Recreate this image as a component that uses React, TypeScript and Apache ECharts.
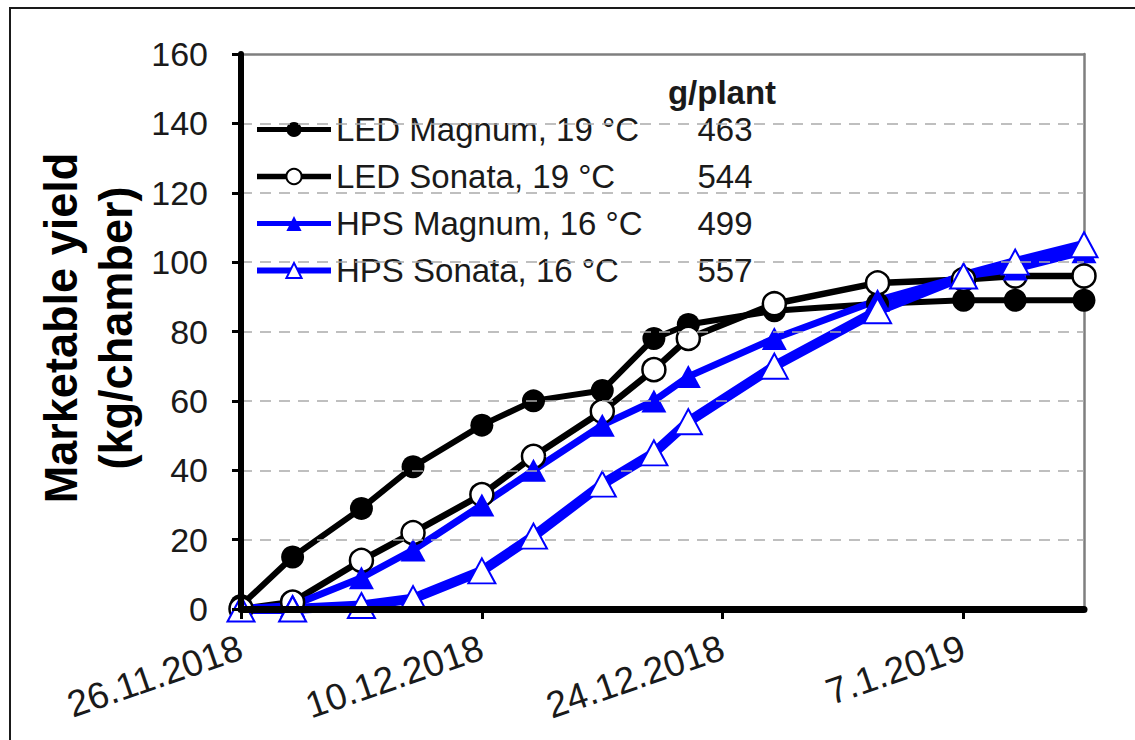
import React, { useEffect, useRef } from 'react';
import * as echarts from 'echarts';

// ---- data ----
const harvestDates = [
  '2018-11-26', '2018-11-29', '2018-12-03', '2018-12-06', '2018-12-10', '2018-12-13', '2018-12-17',
  '2018-12-20', '2018-12-22', '2018-12-27', '2019-01-02', '2019-01-07', '2019-01-10', '2019-01-14',
];
const ledMagnum = [1, 15, 29, 41, 53, 60, 63, 78, 82, 86, 88, 89, 89, 89];
const ledSonata = [0, 2, 14, 22, 33, 44, 57, 69, 78, 88, 94, 95, 96, 96];
const hpsMagnum = [0, 1, 9, 17, 30, 40, 53, 60, 67, 78, 89, 96, 98, 103];
const hpsSonata = [0, 0, 1, 3, 11, 21, 36, 45, 54, 70, 86, 96, 100, 105];
const seriesNames = ['LED Magnum, 19 °C', 'LED Sonata, 19 °C', 'HPS Magnum, 16 °C', 'HPS Sonata, 16 °C'];
const gramsPerPlant = [463, 544, 499, 557];
const xStartDate = '2018-11-26';
const xEndDate = '2019-01-14';
const xTickDates = ['2018-11-26', '2018-12-10', '2018-12-24', '2019-01-07'];
const yMin = 0;
const yMax = 160;
const yStep = 20;

const DAY = 86400000;
const dayOffset = (s: string) => Math.round((Date.parse(s) - Date.parse(xStartDate)) / DAY);
const fmtDate = (v: number) => {
  const d = new Date(Date.parse(xStartDate) + v * DAY);
  return `${d.getUTCDate()}.${d.getUTCMonth() + 1}.${d.getUTCFullYear()}`;
};
const pairs = (vals: number[]) => harvestDates.map((d, i) => [dayOffset(d), vals[i]]);

const FONT = '"Liberation Sans", Arial, Helvetica, sans-serif';
const BLUE = '#0000ff';

export default function App() {
  const ref = useRef<HTMLDivElement>(null);
  useEffect(() => {
    document.body.style.margin = '0';
    if (!ref.current) return;
    const chart = echarts.init(ref.current, undefined, { renderer: 'svg' });
    const xTicks = xTickDates.map(dayOffset);
    const xMax = dayOffset(xEndDate);
    const legendLineWidths = [5, 5.5, 5, 6];
    chart.setOption({
      animation: false,
      backgroundColor: '#ffffff',
      grid: { left: 241, top: 54, right: 51, bottom: 131, show: false },
      xAxis: [
        {
          type: 'value',
          min: 0,
          max: xMax,
          interval: 14,
          z: 5,
          axisLine: { show: true, lineStyle: { color: '#000', width: 7 } },
          axisTick: { show: true, length: 10, lineStyle: { color: '#000', width: 3 }, customValues: xTicks },
          axisLabel: {
            customValues: xTicks,
            formatter: (v: number) => fmtDate(v),
            rotate: 19,
            margin: 37,
            fontSize: 37,
            fontFamily: FONT,
            color: '#1a1a1a',
          },
          splitLine: { show: false },
        },
        {
          type: 'value',
          position: 'top',
          min: 0,
          max: xMax,
          interval: 14,
          axisLine: { show: true, onZero: false, lineStyle: { color: '#7f7f7f', width: 2.5 } },
          axisTick: { show: false },
          axisLabel: { show: false },
          splitLine: { show: false },
        },
      ],
      yAxis: [
        {
          type: 'value',
          min: yMin,
          max: yMax,
          interval: yStep,
          z: 5,
          axisLine: { show: true, lineStyle: { color: '#000', width: 6 } },
          axisTick: { show: true, length: 9, lineStyle: { color: '#000', width: 3 } },
          axisLabel: { fontSize: 34, fontFamily: FONT, color: '#1a1a1a', margin: 33 },
          splitLine: {
            show: true,
            showMinLine: false,
            showMaxLine: false,
            lineStyle: { color: '#ababab', width: 1.5, type: [11, 8] },
          },
        },
        {
          type: 'value',
          position: 'right',
          min: yMin,
          max: yMax,
          interval: yStep,
          axisLine: { show: true, onZero: false, lineStyle: { color: '#7f7f7f', width: 2.5 } },
          axisTick: { show: false },
          axisLabel: { show: false },
          splitLine: { show: false },
        },
      ],
      legend: {
        orient: 'vertical',
        left: 246,
        top: 107,
        padding: [6, 45, 2, 8],
        itemWidth: 74,
        itemHeight: 19,
        itemGap: 14,
        backgroundColor: 'rgba(255,255,255,0.88)',
        data: seriesNames.map((name, i) => ({ name, lineStyle: { width: legendLineWidths[i] } })),
        formatter: (name: string) => `{n|${name}}{v|${gramsPerPlant[seriesNames.indexOf(name)]}}`,
        textStyle: {
          fontSize: 33,
          fontFamily: FONT,
          color: '#1a1a1a',
          rich: {
            n: { width: 349, fontSize: 33, fontFamily: FONT, color: '#1a1a1a' },
            v: { width: 80, align: 'center', fontSize: 33, fontFamily: FONT, color: '#1a1a1a' },
          },
        },
      },
      graphic: [
        {
          type: 'rect', silent: true, z: 100,
          shape: { x: 10, y: 8, width: 1300, height: 900 },
          style: { fill: 'none', stroke: '#1a1a1a', lineWidth: 2 },
        },
        {
          type: 'text', x: 722, y: 92, z: 100,
          style: { text: 'g/plant', fontSize: 33, fontWeight: 'bold', fontFamily: FONT, fill: '#1a1a1a', align: 'center', verticalAlign: 'middle' },
        },
        {
          type: 'text', x: 61, y: 328, rotation: Math.PI / 2, scaleX: 0.98, z: 100,
          style: { text: 'Marketable yield', fontSize: 46, fontWeight: 'bold', fontFamily: FONT, fill: '#000', align: 'center', verticalAlign: 'middle' },
        },
        {
          type: 'text', x: 116, y: 328, rotation: Math.PI / 2, scaleX: 0.98, z: 100,
          style: { text: '(kg/chamber)', fontSize: 46, fontWeight: 'bold', fontFamily: FONT, fill: '#000', align: 'center', verticalAlign: 'middle' },
        },
      ],
      series: [
        {
          name: seriesNames[0], type: 'line', data: pairs(ledMagnum), clip: false,
          symbol: 'circle', symbolSize: 23,
          itemStyle: { color: '#000' },
          lineStyle: { color: '#000', width: 6 },
        },
        {
          name: seriesNames[1], type: 'line', data: pairs(ledSonata), clip: false,
          symbol: 'circle', symbolSize: 23,
          itemStyle: { color: '#fff', borderColor: '#000', borderWidth: 2.5 },
          lineStyle: { color: '#000', width: 6.5 },
        },
        {
          name: seriesNames[2], type: 'line', data: pairs(hpsMagnum), clip: false,
          symbol: 'triangle', symbolSize: [25, 23],
          itemStyle: { color: BLUE },
          lineStyle: { color: BLUE, width: 7 },
        },
        {
          name: seriesNames[3], type: 'line', data: pairs(hpsSonata), clip: false,
          symbol: 'triangle', symbolSize: [27, 25],
          itemStyle: { color: '#fff', borderColor: BLUE, borderWidth: 2 },
          lineStyle: { color: BLUE, width: 10 },
        },
      ],
    });
    return () => chart.dispose();
  }, []);
  return <div ref={ref} style={{ width: 1135, height: 740 }} />;
}
